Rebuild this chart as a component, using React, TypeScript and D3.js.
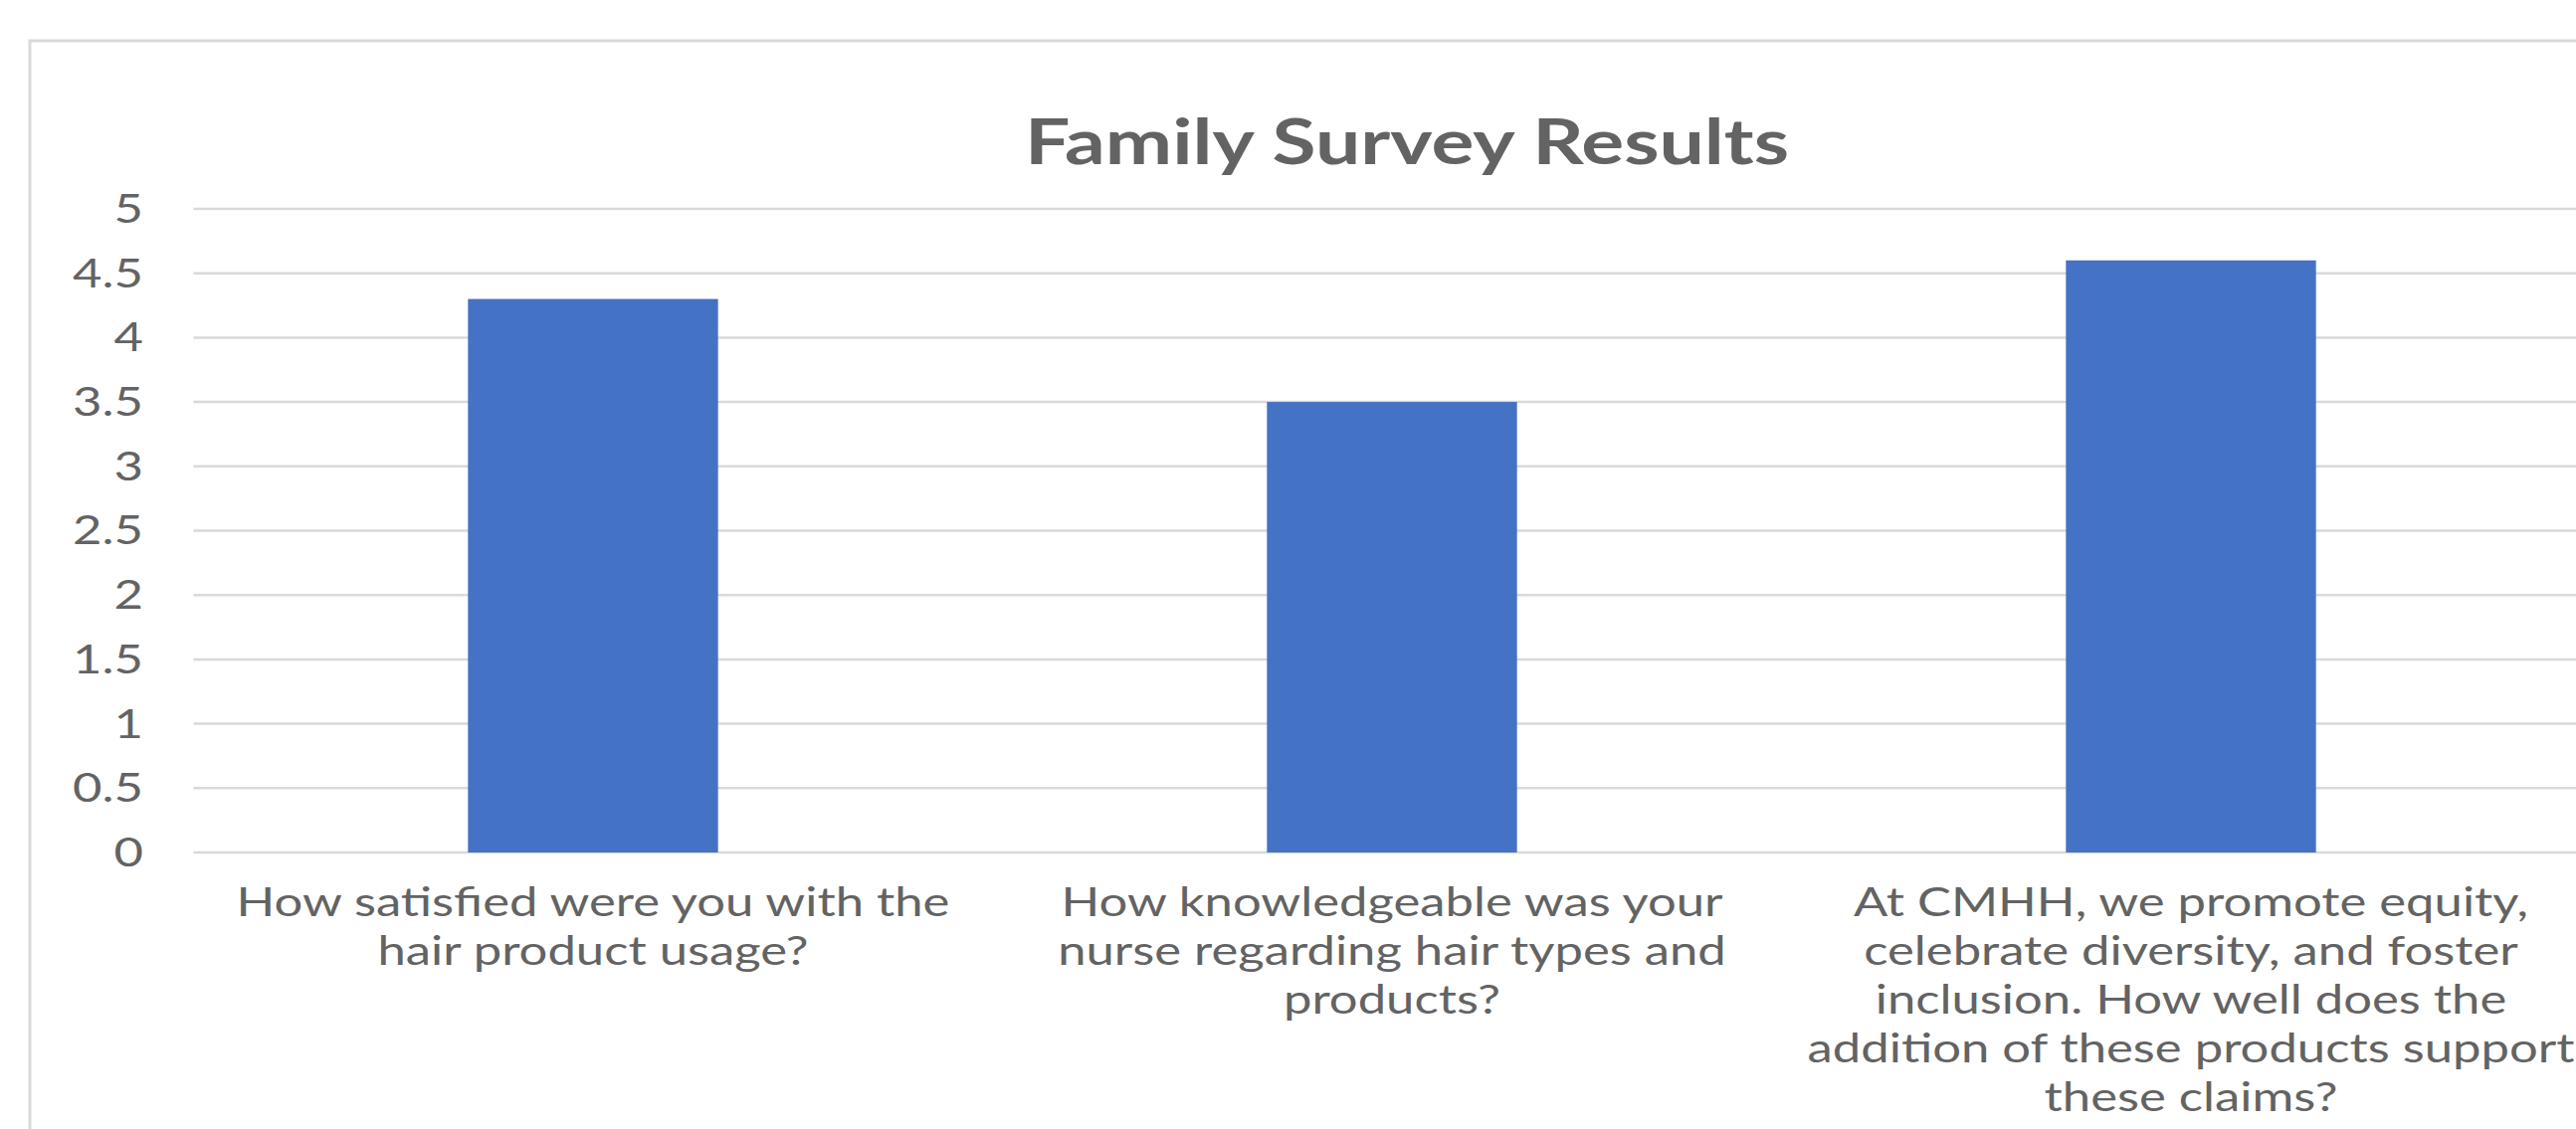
import React from "react";
import * as d3 from "d3";

const title = "Family Survey Results";
const categories = ["Q1", "Q2", "Q3"];
const categoryLines: string[][] = [
  ["How satisfied were you with the", "hair product usage?"],
  ["How knowledgeable was your", "nurse regarding hair types and", "products?"],
  [
    "At CMHH, we promote equity,",
    "celebrate diversity, and foster",
    "inclusion. How well does the",
    "addition of these products support",
    "these claims?",
  ],
];
const values = [4.3, 3.5, 4.6];
const yTicks = [0, 0.5, 1, 1.5, 2, 2.5, 3, 3.5, 4, 4.5, 5];
const yTickLabels = ["0", "0.5", "1", "1.5", "2", "2.5", "3", "3.5", "4", "4.5", "5"];

const REAL_W = 2589;
const H = 1135;
const SX = 1.33;
const VW = REAL_W / SX;

const FONT = "Lato, Carlito, Calibri, 'Open Sans', sans-serif";
const TEXT = "#636363";
const GRID = "#d9d9d9";
const BAR = "#4472C4";

// horizontal squeeze for text so Lato matches the narrower original face
const TXT_SQ = 0.955;
const TITLE_SQ = 0.945;

export default function App() {
  const plotLeft = 194.5 / SX;
  const plotRight = 2603.5 / SX;
  const x = d3
    .scaleBand<string>()
    .domain(categories)
    .range([plotLeft, plotRight])
    .paddingInner(0.687)
    .paddingOuter(0.3435);
  const y = d3.scaleLinear().domain([0, 5]).range([857, 210]);

  return (
    <svg
      width={REAL_W}
      height={H}
      viewBox={`0 0 ${VW} ${H}`}
      preserveAspectRatio="none"
      style={{ position: "absolute", left: 0, top: 0, background: "#fff" }}
    >
      <rect x={0} y={0} width={VW} height={H} fill="#fff" />
      {/* chart area border */}
      <rect
        x={30 / SX}
        y={41}
        width={(2798 - 30) / SX}
        height={H + 50}
        fill="none"
        stroke={GRID}
        strokeWidth={3}
        vectorEffect="non-scaling-stroke"
      />
      <g transform={`scale(${TITLE_SQ},1)`}>
        <text
          x={1414 / SX / TITLE_SQ}
          y={165}
          textAnchor="middle"
          fontFamily={FONT}
          fontWeight={700}
          fontSize={64}
          fill={TEXT}
        >
          {title}
        </text>
      </g>
      {yTicks.map((t) => (
        <line
          key={t}
          x1={plotLeft}
          x2={plotRight}
          y1={y(t)}
          y2={y(t)}
          stroke={GRID}
          strokeWidth={2.5}
          vectorEffect="non-scaling-stroke"
        />
      ))}
      <g transform={`scale(${TXT_SQ},1)`}>
        {yTicks.map((t, i) => (
          <text
            key={t}
            x={144 / SX / TXT_SQ}
            y={y(t)}
            dy="0.35em"
            textAnchor="end"
            fontFamily={FONT}
            fontSize={40}
            fill={TEXT}
          >
            {yTickLabels[i]}
          </text>
        ))}
      </g>
      {categories.map((c, i) => (
        <rect
          key={c}
          x={x(c)}
          y={y(values[i])}
          width={x.bandwidth()}
          height={y(0) - y(values[i])}
          fill={BAR}
        />
      ))}
      <g transform={`scale(${TXT_SQ},1)`}>
        {categories.map((c, i) => (
          <text
            key={c}
            textAnchor="middle"
            fontFamily={FONT}
            fontSize={40}
            fill={TEXT}
          >
            {categoryLines[i].map((line, j) => (
              <tspan
                key={j}
                x={((x(c) as number) + x.bandwidth() / 2) / TXT_SQ}
                y={921 + j * 49}
              >
                {line}
              </tspan>
            ))}
          </text>
        ))}
      </g>
    </svg>
  );
}
